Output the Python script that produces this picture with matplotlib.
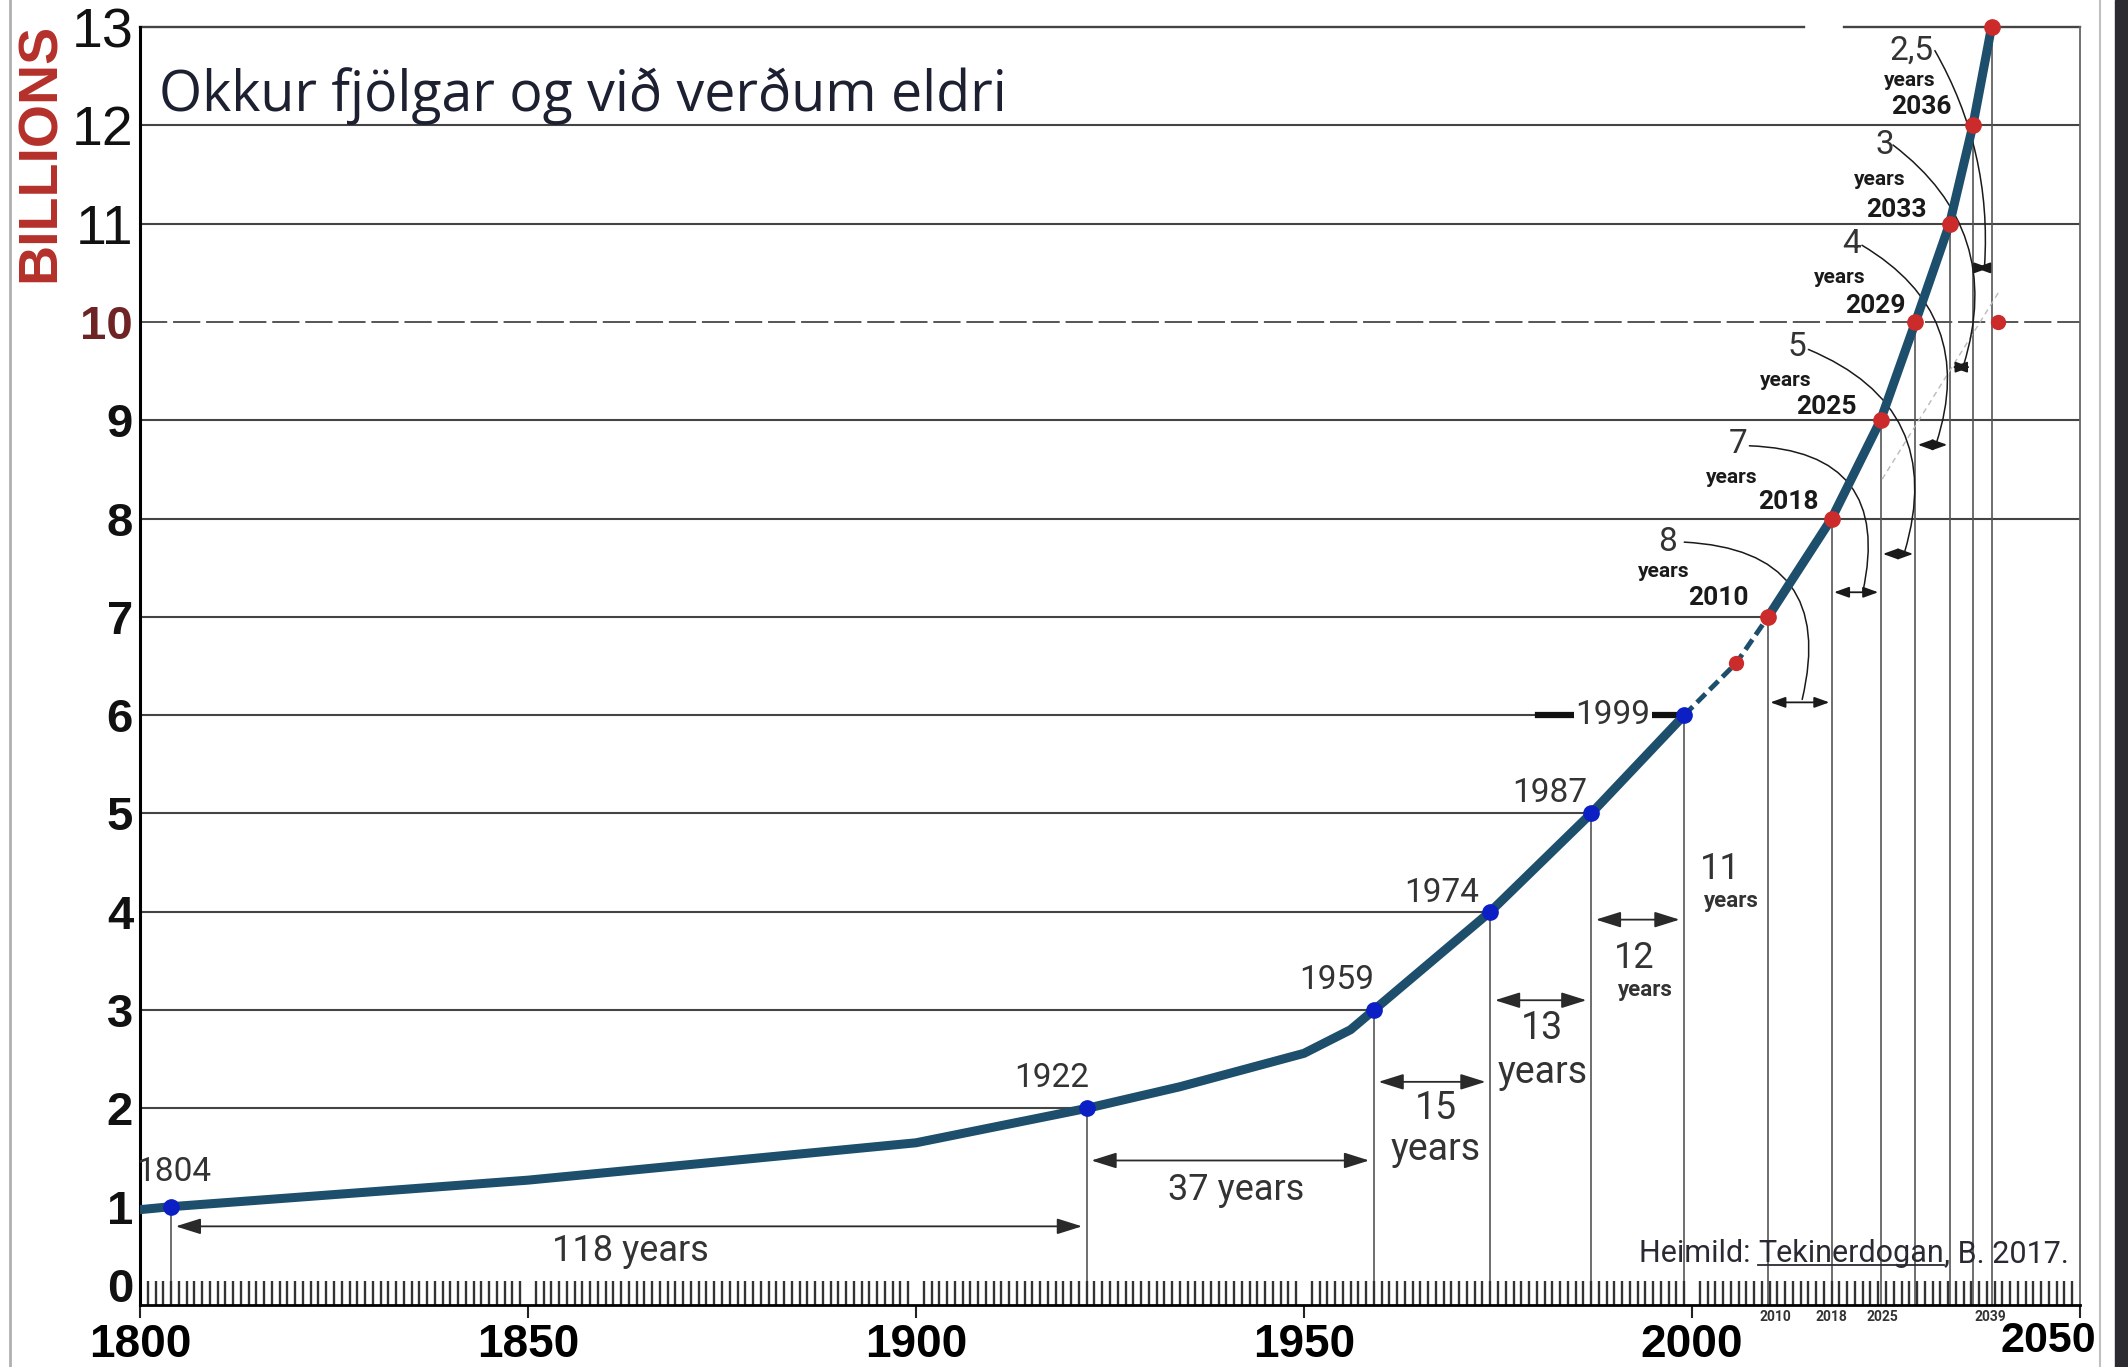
import matplotlib
matplotlib.use('Agg')
import matplotlib.pyplot as plt
from matplotlib.patches import Rectangle
from matplotlib.lines import Line2D
import numpy as np

# ---------------- data ----------------
curve_years = [1800, 1804, 1850, 1900, 1922, 1934, 1950, 1956, 1959, 1974, 1987, 1999]
curve_vals = [0.97, 1.0, 1.27, 1.65, 2.0, 2.22, 2.56, 2.8, 3.0, 4.0, 5.0, 6.0]
bridge_years = [1999, 2005.7, 2009.8]
bridge_vals = [6.0, 6.53, 7.0]
proj_years = [2009.8, 2018.0, 2024.3, 2028.8, 2033.2, 2036.2, 2038.6]
proj_vals = [7, 8, 9, 10, 11, 12, 13]
hist_years = [1804, 1922, 1959, 1974, 1987, 1999]
hist_vals = [1, 2, 3, 4, 5, 6]
hist_labels = ['1804', '1922', '1959', '1974', '1987', '1999']
extra_red_years = [2005.7, 2039.4]
extra_red_vals = [6.53, 10]
hist_gaps = ['118 years', '37 years', '15', '13', '12', '11']
proj_gaps = ['8', '7', '5', '4', '3', '2,5']
proj_labels = ['2010', '2018', '2025', '2029', '2033', '2036']
axis_small_labels = ['2010', '2018', '2025', '2039']
x_major = [1800, 1850, 1900, 1950, 2000, 2050]
y_levels = list(range(0, 14))
title = 'Okkur fjölgar og við verðum eldri'
# ----------------------------------------------------------------

W, H = 2128, 1367
fig = plt.figure(figsize=(W / 100, H / 100), dpi=100)
fig.patch.set_facecolor('white')

NARROW = ['Roboto', 'DejaVu Sans']
ARIAL = ['Liberation Sans', 'DejaVu Sans']
TEAL = '#1d4f6c'
BLUE = '#0b1fc4'
RED = '#cc2b2b'
TXT = '#333333'
LINE = '#444444'

ax = fig.add_axes([140 / W, 1 - 1305 / H, (2080 - 140) / W, (1305 - 27) / H])
ax.set_xlim(1800, 2050)
ax.set_ylim(0, 13)
ax.set_facecolor('none')

ax.spines['top'].set_visible(False)
ax.spines['left'].set_linewidth(2.2)
ax.spines['bottom'].set_linewidth(2.0)
ax.spines['right'].set_linewidth(1.3)
ax.spines['right'].set_color('#666666')

# ---- horizontal level lines ----
pt_year = dict(zip(hist_vals + proj_vals, hist_years + proj_years))
for k in range(2, 14):
    if k == 10:
        ax.plot([1800, 2050], [k, k], color='#555555', lw=1.4, ls=(0, (14, 3)), zorder=1)
        continue
    end = pt_year[k] if k <= 7 else 2050
    if k == 13:
        ax.plot([1800, 2014.4], [k, k], color=LINE, lw=1.7, zorder=1, clip_on=False)
        ax.plot([2019.6, 2050], [k, k], color=LINE, lw=1.7, zorder=1, clip_on=False)
    else:
        ax.plot([1800, end], [k, k], color=LINE, lw=1.5, zorder=1)

# ---- vertical drop lines ----
ax.vlines(hist_years + proj_years, 0, hist_vals + proj_vals, color='#555555', lw=1.2, zorder=1)

# faint dashed diagonal
ax.plot([2024.5, 2039.5], [8.4, 10.3], color='#bbbbbb', lw=1, ls=(0, (4, 3)), zorder=1)

# ---- curve ----
ax.plot(curve_years, curve_vals, color=TEAL, lw=6.5, solid_capstyle='round', solid_joinstyle='round', zorder=5)
ax.plot(bridge_years, bridge_vals, color=TEAL, lw=3.5, ls=(0, (2.5, 1.2)), zorder=5)
ax.plot(proj_years, proj_vals, color=TEAL, lw=6.5, solid_capstyle='round', zorder=5, clip_on=False)
ax.plot(hist_years, hist_vals, 'o', color=BLUE, ms=11, zorder=6)
ax.plot(proj_years, proj_vals, 'o', color=RED, ms=11, zorder=6, clip_on=False)
ax.plot(extra_red_years, extra_red_vals, 'o', color=RED, ms=10, zorder=6)

# ---- "1999" thick dashes ----
ax.plot([1980.1, 1984.8], [6, 6], color='#111111', lw=4.5, zorder=3)
ax.plot([1995.0, 1998.8], [6, 6], color='#111111', lw=4.5, zorder=3)

# ---- historical year labels ----
hist_lab_pos = [(1804.4, 1.35), (1917.5, 2.31), (1954.2, 3.31), (1967.8, 4.19), (1981.7, 5.21), (1989.8, 6.0)]
for i, (lab, (x, y)) in enumerate(zip(hist_labels, hist_lab_pos)):
    kw = dict(ha='center', va='center', fontsize=24, color=TXT, family=NARROW, zorder=4)
    if i == 5:
        kw['bbox'] = dict(facecolor='white', edgecolor='none', pad=1)
    ax.text(x, y, lab, **kw)

# ---- arrows ----
arrow_kw = dict(arrowstyle='<|-|>,head_length=0.7,head_width=0.22', color='#2a2a2a', lw=1.3,
                shrinkA=0, shrinkB=0, mutation_scale=22)
hist_arrow_y = [0.8, 1.47, 2.27, 3.1, 3.92]
for i, y in enumerate(hist_arrow_y):
    ax.annotate('', xy=(hist_years[i] + 0.6, y), xytext=(hist_years[i + 1] - 0.6, y), arrowprops=arrow_kw)

# duration labels (historical)
ax.text(1863.2, 0.55, hist_gaps[0], ha='center', va='center', fontsize=26, color=TXT, family=NARROW)
ax.text(1941.3, 1.17, hist_gaps[1], ha='center', va='center', fontsize=26, color=TXT, family=NARROW)
ax.text(1967.0, 2.0, hist_gaps[2], ha='center', va='center', fontsize=27, color=TXT, family=NARROW)
ax.text(1967.0, 1.58, 'years', ha='center', va='center', fontsize=27, color=TXT, family=NARROW)
ax.text(1980.7, 2.81, hist_gaps[3], ha='center', va='center', fontsize=27, color=TXT, family=NARROW)
ax.text(1980.7, 2.37, 'years', ha='center', va='center', fontsize=27, color=TXT, family=NARROW)
ax.text(1992.6, 3.53, hist_gaps[4], ha='center', va='center', fontsize=26, color=TXT, family=NARROW)
ax.text(1994.0, 3.2, 'years', ha='center', va='center', fontsize=16, color=TXT, family=NARROW, weight='bold')
ax.text(2003.7, 4.44, hist_gaps[5], ha='center', va='center', fontsize=26, color=TXT, family=NARROW)
ax.text(2005.1, 4.11, 'years', ha='center', va='center', fontsize=16, color=TXT, family=NARROW, weight='bold')

# ---- projection arrows ----
small_kw = dict(arrowstyle='<|-|>,head_length=0.5,head_width=0.18', color='#1a1a1a', lw=1.3,
                shrinkA=0, shrinkB=0, mutation_scale=18)
proj_arrow_y = [6.13, 7.25, 7.64, 8.75, 9.54, 10.55]
for i, y in enumerate(proj_arrow_y):
    ax.annotate('', xy=(proj_years[i] + 0.3, y), xytext=(proj_years[i + 1] - 0.3, y), arrowprops=small_kw)

# projection labels: gap number, "years", year
gap_pos = [(1996.9, 7.76), (2006.0, 8.76), (2013.5, 9.74), (2020.5, 10.79), (2024.9, 11.8), (2028.3, 12.76)]
yrs_pos = [(1996.4, 7.46), (2005.1, 8.42), (2012.1, 9.40), (2019.1, 10.45), (2024.2, 11.45), (2028.1, 12.46)]
yr_pos = [(2003.4, 7.19), (2012.4, 8.17), (2017.3, 9.13), (2023.6, 10.16), (2026.4, 11.14), (2029.5, 12.19)]
for g, (gx, gy), (sx, sy), lab, (lx, ly) in zip(proj_gaps, gap_pos, yrs_pos, proj_labels, yr_pos):
    ax.text(gx, gy, g, ha='center', va='center', fontsize=24, color=TXT, family=NARROW, zorder=4)
    ax.text(sx, sy, 'years', ha='center', va='center', fontsize=15, color='#1a1a1a', family=NARROW,
            weight='bold', zorder=4)
    ax.text(lx, ly, lab, ha='center', va='center', fontsize=19, color='#1a1a1a', family=NARROW,
            weight='bold', zorder=4)

# leader curves
leaders = [((1999.0, 7.76), (2014.2, 6.16), -0.6),
           ((2007.4, 8.74), (2022.0, 7.25), -0.6),
           ((2015.0, 9.72), (2027.4, 7.66), -0.45),
           ((2021.9, 10.78), (2031.5, 8.77), -0.4),
           ((2025.9, 11.8), (2035.0, 9.56), -0.35),
           ((2031.3, 12.76), (2037.7, 10.57), -0.15)]
for (s, e, r) in leaders:
    ax.annotate('', xy=e, xytext=s,
                arrowprops=dict(arrowstyle='-', color='#1a1a1a', lw=1.1, shrinkA=0, shrinkB=0,
                                connectionstyle=f'arc3,rad={r}'), zorder=4)

# ---- x axis ticks ----
ax.set_xticks(x_major)
ax.set_xticks(np.arange(1800, 2051, 1), minor=True)
ax.set_xticklabels([str(v) for v in x_major[:-1]] + [''])
ax.tick_params(axis='x', which='major', direction='out', length=9, width=1.5, pad=4,
               labelsize=33, color='#222222')
ax.tick_params(axis='x', which='minor', direction='in', length=17, width=1.7, color='#333333')
for lab in ax.get_xticklabels():
    lab.set_fontfamily(ARIAL)
    lab.set_fontweight('bold')
ax.annotate(str(x_major[-1]), xy=(x_major[-1], 0), xytext=(-23, -26), textcoords='offset points',
            ha='center', va='center', fontsize=31, weight='bold', family=ARIAL, annotation_clip=False)

small_pos = [2010.8, 2018.0, 2024.5, 2038.5]
for lab, x in zip(axis_small_labels, small_pos):
    ax.text(x, -0.12, lab, ha='center', va='center', fontsize=10, weight='bold', family=NARROW,
            color='#333333', clip_on=False)

# ---- y axis ticks ----
ax.set_yticks(y_levels)
ax.set_yticklabels([''] + [str(v) for v in y_levels[1:]])
ax.tick_params(axis='y', length=0, pad=5)
for v, lab in zip(y_levels, ax.get_yticklabels()):
    lab.set_fontfamily(ARIAL)
    if v >= 11:
        lab.set_fontsize(40)
        lab.set_fontweight('normal')
        lab.set_color('#111111')
    elif v == 10:
        lab.set_fontsize(34)
        lab.set_fontweight('bold')
        lab.set_color('#6e2424')
    else:
        lab.set_fontsize(34)
        lab.set_fontweight('bold')
        lab.set_color('#111111')
ax.annotate(str(y_levels[0]), xy=(1800, 0), xytext=(-5, 11), textcoords='offset points',
            ha='right', va='center', fontsize=34, weight='bold', family=ARIAL, color='#111111',
            annotation_clip=False)

# ---- BILLIONS ----
fig.text(41 / W, 1 - 152 / H, 'BILLIONS', rotation=90, color='#b5302a', fontsize=40, weight='bold',
         ha='center', va='center', family=ARIAL)

# ---- title ----
fig.text(159 / W, 1 - 111 / H, title, ha='left', va='baseline', fontsize=40,
         family=['Open Sans', 'DejaVu Sans'], color='#1d2030')

# ---- source with underline ----
fig.canvas.draw()
renderer = fig.canvas.get_renderer()
x0 = 1639
yb = 1 - 1262 / H
src_kw = dict(va='baseline', ha='left', fontsize=22, family=['Roboto', 'DejaVu Sans'], color='#2a2a33')
t1 = fig.text(x0 / W, yb, 'Heimild: ', **src_kw)
bb1 = t1.get_window_extent(renderer)
t2 = fig.text(bb1.x1 / W, yb, 'Tekinerdogan', **src_kw)
bb2 = t2.get_window_extent(renderer)
t3 = fig.text(bb2.x1 / W, yb, ', B. 2017.', **src_kw)
fig.add_artist(Line2D([bb2.x0 / W, bb2.x1 / W], [yb - 3 / H, yb - 3 / H], color='#2a2a33', lw=1.3))

# ---- frame decorations ----
fig.add_artist(Line2D([10 / W, 10 / W], [0, 1], color='#b0b0b0', lw=2))
fig.add_artist(Line2D([2100 / W, 2100 / W], [0, 1], color='#c0c0c0', lw=1.5))
fig.add_artist(Rectangle((2115 / W, 0), 13 / W, 1, transform=fig.transFigure, color='#2b2b31', zorder=10))

fig.savefig('out.png', dpi=100)
